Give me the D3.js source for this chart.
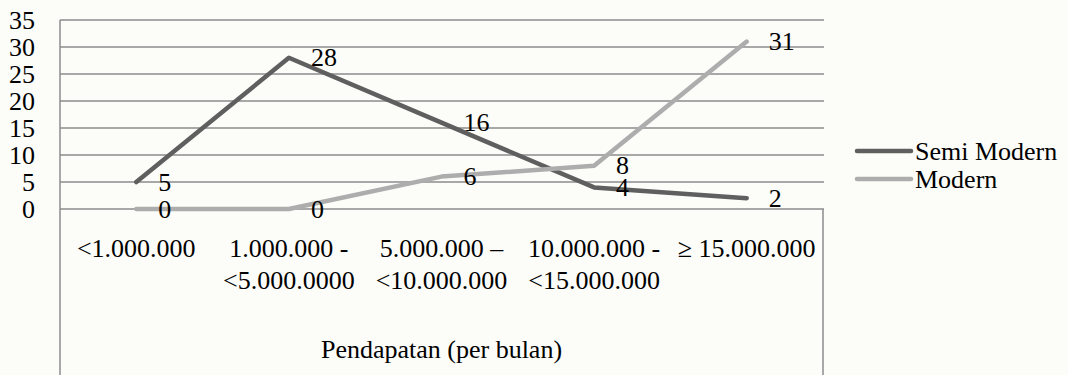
<!DOCTYPE html>
<html>
<head>
<meta charset="utf-8">
<script src="https://cdn.jsdelivr.net/npm/d3@7"></script>
<style>
  html, body { margin: 0; padding: 0; background: #fcfcf9; }
  svg { display: block; }
  svg text { font-family: 'Liberation Serif', 'Times New Roman', Times, 'DejaVu Serif', serif; fill: #000; }
</style>
</head>
<body>
<svg id="chart" width="1068" height="375"></svg>
<script>
// Income brackets (each entry is the wrapped lines of the label)
const categories = [
  ["<1.000.000"],
  ["1.000.000 -", "<5.000.0000"],
  ["5.000.000 –", "<10.000.000"],
  ["10.000.000 -", "<15.000.000"],
  ["\u2265 15.000.000"]
];
const seriesNames = ["Semi Modern", "Modern"];
const semiModern = [5, 28, 16, 4, 2];
const modern = [0, 0, 6, 8, 31];
const yTicks = [0, 5, 10, 15, 20, 25, 30, 35];
const xTitle = "Pendapatan (per bulan)";

const colors = { "Semi Modern": "#5f5f5f", "Modern": "#adadad" };
const series = [
  { name: seriesNames[0], values: semiModern },
  { name: seriesNames[1], values: modern }
];

const serif = "'Liberation Serif', 'Times New Roman', Times, 'DejaVu Serif', serif";
const svg = d3.select("#chart").attr("font-family", serif);
const plotLeft = 60, plotRight = 823, plotTop = 20, zeroY = 209;
const fs = 26;

const x = d3.scalePoint()
  .domain(d3.range(categories.length))
  .range([plotLeft, plotRight])
  .padding(0.5);
const y = d3.scaleLinear().domain([0, 35]).range([zeroY, plotTop]);

const gridColor = "#8c8c8c";

// horizontal gridlines
svg.append("g")
  .selectAll("line")
  .data(yTicks)
  .join("line")
  .attr("x1", plotLeft).attr("x2", plotRight + 1)
  .attr("y1", d => y(d)).attr("y2", d => y(d))
  .attr("stroke", gridColor)
  .attr("stroke-width", 1.5);

// frame lines around the plot and the category label area
svg.append("line")
  .attr("x1", plotLeft).attr("x2", plotLeft)
  .attr("y1", y(35)).attr("y2", 375)
  .attr("stroke", gridColor).attr("stroke-width", 1.5);
svg.append("line")
  .attr("x1", plotRight).attr("x2", plotRight)
  .attr("y1", y(0)).attr("y2", 375)
  .attr("stroke", gridColor).attr("stroke-width", 1.5);

// value axis labels
const yAxis = d3.axisLeft(y).tickValues(yTicks).tickSize(0).tickPadding(0);
const yg = svg.append("g").attr("transform", "translate(35,0)").call(yAxis)
  .attr("font-family", serif).attr("font-size", fs);
yg.select(".domain").remove();
yg.selectAll("text")
  .attr("font-family", serif)
  .attr("font-size", fs)
  .attr("fill", "#000")
  .attr("dy", "0.33em");

// category labels
const cat = svg.append("g")
  .selectAll("text")
  .data(categories)
  .join("text")
  .attr("font-family", serif)
  .attr("text-anchor", "middle")
  .attr("font-size", fs)
  .attr("y", 257);
cat.selectAll("tspan")
  .data((d, i) => d.map(line => ({ line, i })))
  .join("tspan")
  .attr("x", d => x(d.i))
  .attr("dy", (d, j) => j === 0 ? 0 : 32)
  .text(d => d.line);

// axis title
svg.append("text")
  .attr("font-family", serif)
  .attr("x", (plotLeft + plotRight) / 2)
  .attr("y", 358)
  .attr("text-anchor", "middle")
  .attr("font-size", fs)
  .text(xTitle);

// series lines
const line = d3.line()
  .x((d, i) => x(i))
  .y(d => y(d));

svg.append("g")
  .selectAll("path")
  .data(series)
  .join("path")
  .attr("d", d => line(d.values))
  .attr("fill", "none")
  .attr("stroke", d => colors[d.name])
  .attr("stroke-width", 4.5)
  .attr("stroke-linejoin", "round")
  .attr("stroke-linecap", "round");

// value labels to the right of each point
series.forEach(s => {
  svg.append("g")
    .selectAll("text")
    .data(s.values)
    .join("text")
    .attr("font-family", serif)
    .attr("x", (d, i) => x(i) + 22)
    .attr("y", d => y(d))
    .attr("dy", "0.33em")
    .attr("font-size", fs)
    .text(d => d);
});

// legend
const legend = svg.append("g")
  .selectAll("g")
  .data(series)
  .join("g")
  .attr("transform", (d, i) => `translate(855,${151 + i * 28})`);
legend.append("line")
  .attr("x1", 2).attr("x2", 56)
  .attr("stroke", d => colors[d.name])
  .attr("stroke-width", 4.5)
  .attr("stroke-linecap", "round");
legend.append("text")
  .attr("font-family", serif)
  .attr("x", 60)
  .attr("y", 0)
  .attr("dy", "0.36em")
  .attr("font-size", fs)
  .text(d => d.name);
</script>
</body>
</html>
